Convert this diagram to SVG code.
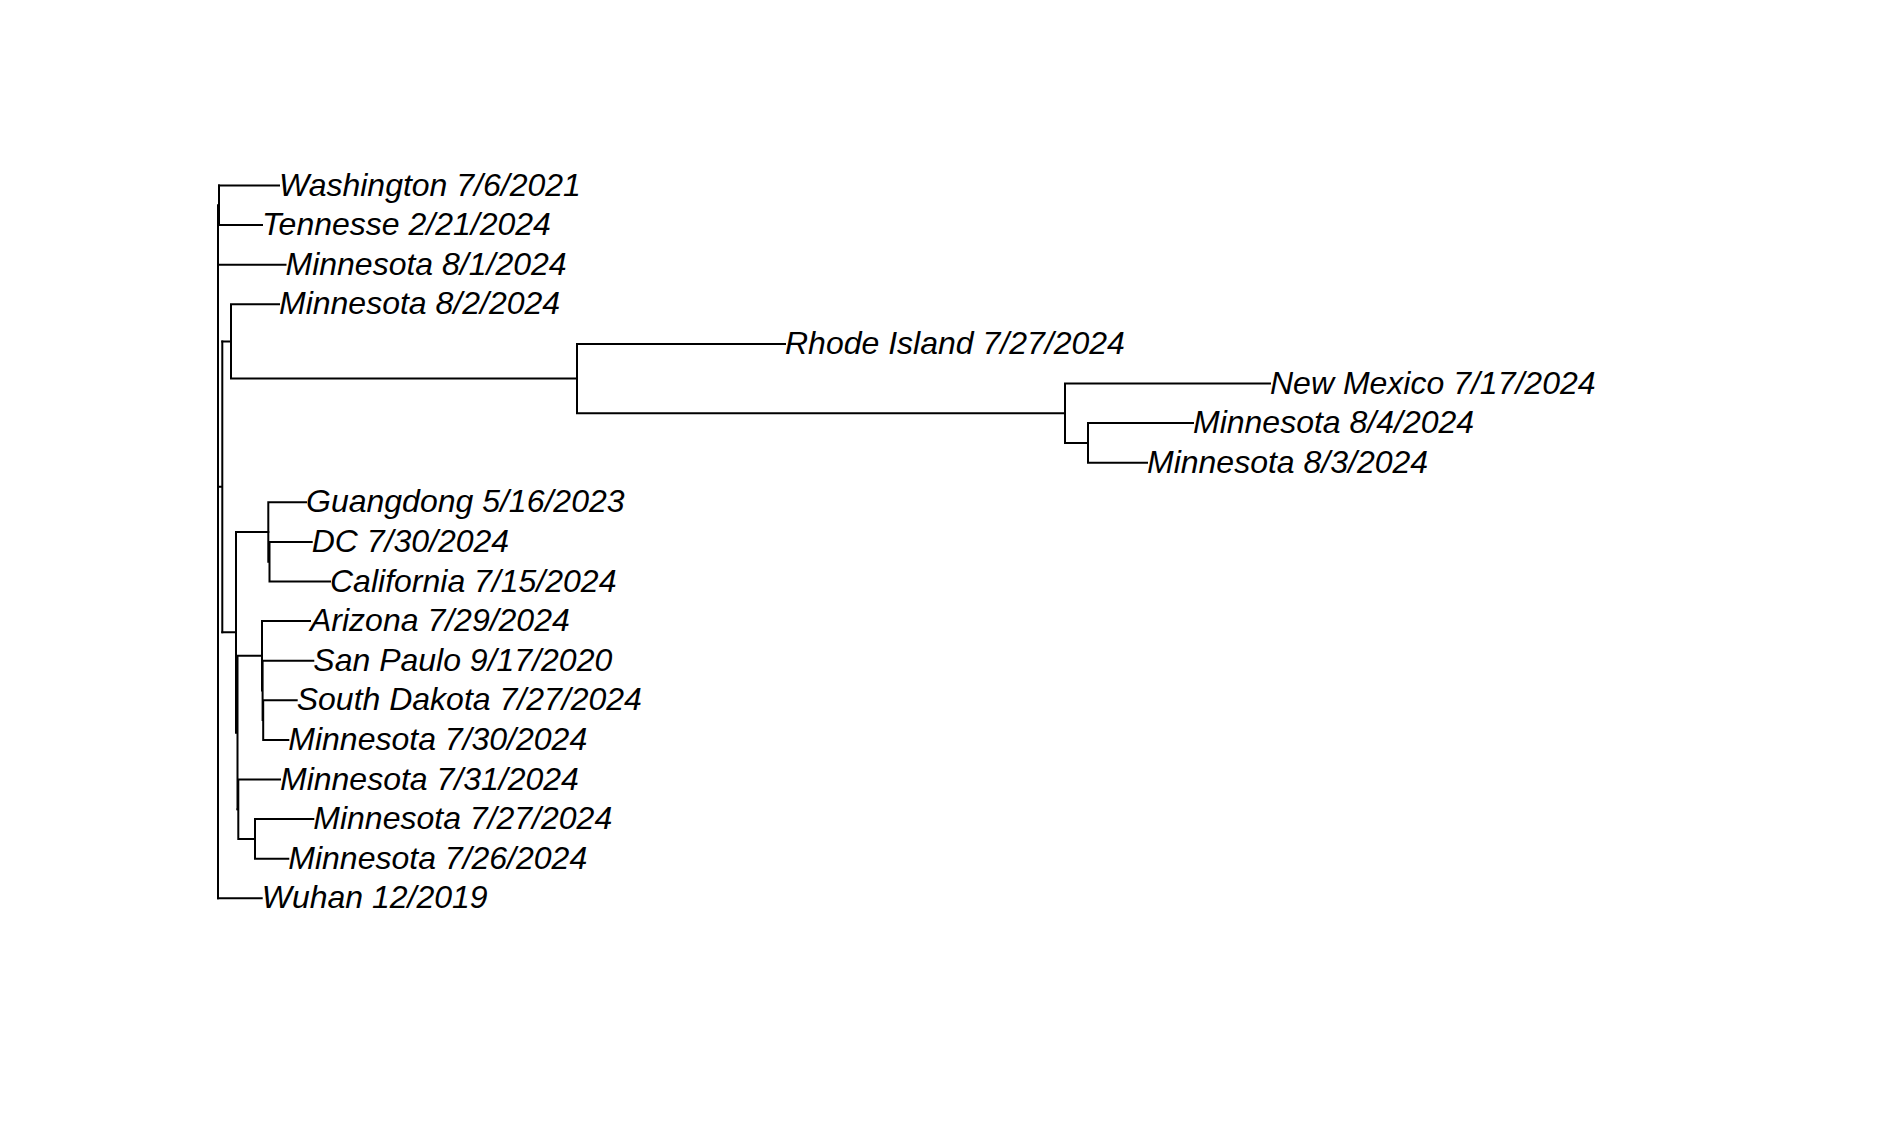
<svg xmlns="http://www.w3.org/2000/svg" width="1888" height="1122" viewBox="0 0 1888 1122">
<style>
.e{fill:none;stroke:#000;stroke-width:2;stroke-linecap:square}
.t{font-family:"Liberation Sans",Arial,sans-serif;font-style:italic;font-size:32px;fill:#000}
</style>
<rect width="1888" height="1122" fill="#fff"/>
<g id="connectors">
<path class="e" d="M218,205.3V898.3"/>
<path class="e" d="M219,185.5V225.1"/>
<path class="e" d="M219,185.5H279M219,225.1H262"/>
<path class="e" d="M218,264.7H285.5"/>
<path class="e" d="M218,898.3H261.7"/>
<path class="e" d="M218,486.8H222.3M222.3,341.4V632.25"/>
<path class="e" d="M222.3,341.4H231M231,304.3V378.55M231,304.3H279M231,378.55H577"/>
<path class="e" d="M577,343.9V413.2M577,343.9H785M577,413.2H1065"/>
<path class="e" d="M1065,383.5V442.9M1065,383.5H1270M1065,442.9H1088"/>
<path class="e" d="M1088,423.1V462.7M1088,423.1H1193M1088,462.7H1147"/>
<path class="e" d="M222.3,632.25H236M236,532V732.5M236,532H268.3"/>
<path class="e" d="M268.3,502.3V561.7M268.3,502.3H306M268.3,561.7H269.5M269.5,541.9V581.5M269.5,541.9H311.7M269.5,581.5H330"/>
<path class="e" d="M236,732.5H237.5M237.5,655.75V809.2M237.5,655.75H262"/>
<path class="e" d="M262,621.1V690.4M262,621.1H310M262,690.4H262.6M262.6,660.7V720.1M262.6,660.7H313.3M262.6,720.1H263.2M263.2,700.3V739.9M263.2,700.3H296.7M263.2,739.9H288.3"/>
<path class="e" d="M237.5,809.2H238.3M238.3,779.5V838.9M238.3,779.5H280M238.3,838.9H255"/>
<path class="e" d="M255,819.1V858.7M255,819.1H313.3M255,858.7H288.3"/>
</g>
<g id="tip-washington"><text class="t" x="279" y="195.5">Washington 7/6/2021</text></g>
<g id="tip-tennesse"><text class="t" x="262" y="235.1">Tennesse 2/21/2024</text></g>
<g id="tip-minnesota-8-1"><text class="t" x="285.5" y="274.7">Minnesota 8/1/2024</text></g>
<g id="tip-minnesota-8-2"><text class="t" x="279" y="314.3">Minnesota 8/2/2024</text></g>
<g id="tip-rhode-island"><text class="t" x="785" y="353.9">Rhode Island 7/27/2024</text></g>
<g id="tip-new-mexico"><text class="t" x="1270" y="393.5">New Mexico 7/17/2024</text></g>
<g id="tip-minnesota-8-4"><text class="t" x="1193" y="433.1">Minnesota 8/4/2024</text></g>
<g id="tip-minnesota-8-3"><text class="t" x="1147" y="472.7">Minnesota 8/3/2024</text></g>
<g id="tip-guangdong"><text class="t" x="306" y="512.3">Guangdong 5/16/2023</text></g>
<g id="tip-dc"><text class="t" x="311.7" y="551.9">DC 7/30/2024</text></g>
<g id="tip-california"><text class="t" x="330" y="591.5">California 7/15/2024</text></g>
<g id="tip-arizona"><text class="t" x="310" y="631.1">Arizona 7/29/2024</text></g>
<g id="tip-san-paulo"><text class="t" x="313.3" y="670.7">San Paulo 9/17/2020</text></g>
<g id="tip-south-dakota"><text class="t" x="296.7" y="710.3">South Dakota 7/27/2024</text></g>
<g id="tip-minnesota-7-30"><text class="t" x="288.3" y="749.9">Minnesota 7/30/2024</text></g>
<g id="tip-minnesota-7-31"><text class="t" x="280" y="789.5">Minnesota 7/31/2024</text></g>
<g id="tip-minnesota-7-27"><text class="t" x="313.3" y="829.1">Minnesota 7/27/2024</text></g>
<g id="tip-minnesota-7-26"><text class="t" x="288.3" y="868.7">Minnesota 7/26/2024</text></g>
<g id="tip-wuhan"><text class="t" x="261.7" y="908.3">Wuhan 12/2019</text></g>
</svg>
